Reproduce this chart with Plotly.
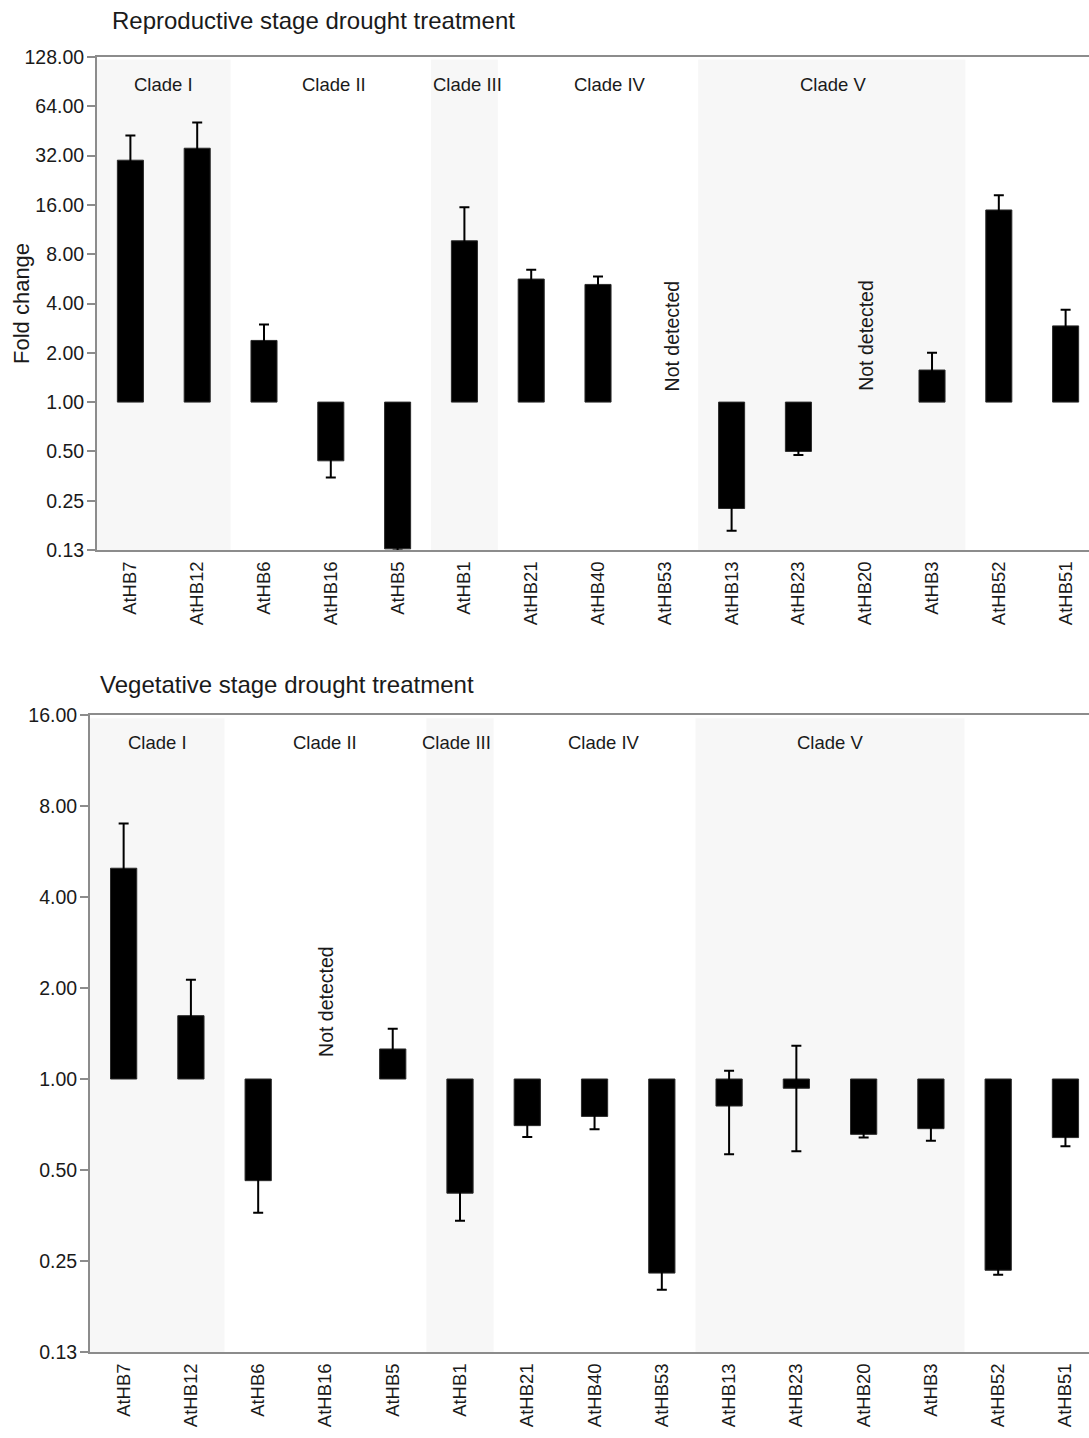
import math
import plotly.graph_objects as go

# ---------------- data ----------------
genes = ["AtHB7", "AtHB12", "AtHB6", "AtHB16", "AtHB5", "AtHB1", "AtHB21", "AtHB40",
         "AtHB53", "AtHB13", "AtHB23", "AtHB20", "AtHB3", "AtHB52", "AtHB51"]

repro_fc = [30.0, 35.5, 2.38, 0.438, 0.127, 9.66, 5.64, 5.23, None, 0.224, 0.50, None, 1.57, 14.9, 2.92]
repro_sd = [12.4, 15.4, 0.60, 0.092, 0.003, 5.8, 0.78, 0.62, None, 0.06, 0.025, None, 0.43, 3.4, 0.74]

veg_fc = [4.98, 1.62, 0.461, None, 1.257, 0.419, 0.701, 0.752, 0.228, 0.814, 0.932, 0.656, 0.685, 0.233, 0.640]
veg_sd = [2.02, 0.51, 0.10, None, 0.21, 0.079, 0.058, 0.07, 0.027, 0.25, 0.355, 0.015, 0.06, 0.008, 0.041]

clade_names = ["Clade I", "Clade II", "Clade III", "Clade IV", "Clade V"]
clade_first = [0, 2, 5, 6, 9]
clade_last = [1, 4, 5, 8, 12]
clade_shaded = [True, False, True, False, True]

repro_ticks = [0.125, 0.25, 0.5, 1, 2, 4, 8, 16, 32, 64, 128]
repro_ticktext = ["0.13", "0.25", "0.50", "1.00", "2.00", "4.00", "8.00", "16.00", "32.00", "64.00", "128.00"]
veg_ticks = [0.125, 0.25, 0.5, 1, 2, 4, 8, 16]
veg_ticktext = ["0.13", "0.25", "0.50", "1.00", "2.00", "4.00", "8.00", "16.00"]

titles = ["Reproductive stage drought treatment", "Vegetative stage drought treatment"]

# ---------------- styling ----------------
W, H = 1089, 1438
FONT = "Arial, Liberation Sans, Helvetica, sans-serif"
TXT = "#1a1a1a"
AX = "#8c8c8c"
SHADE = "#f7f7f7"

def py(p):
    return 1 - p / H

panels = [
    dict(fc=repro_fc, sd=repro_sd, ticks=repro_ticks, ticktext=repro_ticktext,
         xdom=[97 / W, 1.0], ydom=[py(550), py(57)], title=titles[0],
         title_x=110, title_y=20, clade_shift=-28, nd_shift=9, nd_dx={8: 7},
         clade_dx=[0, 0.05, 0.04, 0.18, 0.02]),
    dict(fc=veg_fc, sd=veg_sd, ticks=veg_ticks, ticktext=veg_ticktext,
         xdom=[90 / W, 1.0], ydom=[py(1352), py(715)], title=titles[1],
         title_x=98, title_y=685, clade_shift=-27, nd_shift=20, nd_dx={},
         clade_dx=[0, 0.0, -0.05, 0.14, 0.0]),
]

XR = [-0.5, 14.35]
fig = go.Figure()
shapes = []
annotations = []
layout_axes = {}

for k, p in enumerate(panels):
    xa = "x" if k == 0 else "x2"
    ya = "y" if k == 0 else "y2"
    xkey = "xaxis" if k == 0 else "xaxis2"
    ykey = "yaxis" if k == 0 else "yaxis2"
    xbkey = "xaxis%d" % (3 + k)

    sizes = [None if v is None else v - 1.0 for v in p["fc"]]
    fig.add_trace(go.Bar(
        x=list(range(len(genes))), y=sizes, base=1.0,
        xaxis=xa, yaxis=ya, width=0.39,
        marker=dict(color="#000000", line=dict(color="#2a2a2a", width=1)),
        error_y=dict(type="data", array=p["sd"], symmetric=True, color="#000000",
                     thickness=2, width=5),
        showlegend=False, hoverinfo="skip",
    ))

    ymin, ymax = math.log10(p["ticks"][0]), math.log10(p["ticks"][-1])
    layout_axes[xkey] = dict(
        domain=p["xdom"], anchor=ya, range=XR, tickmode="array",
        tickvals=list(range(len(genes))), ticktext=genes, tickangle=-90,
        ticks="outside", ticklen=2, tickcolor="rgba(0,0,0,0)",
        showline=True, linecolor=AX, linewidth=2, mirror=True,
        showgrid=False, zeroline=False, automargin=False,
        tickfont=dict(family=FONT, size=18.5, color=TXT),
    )
    layout_axes[ykey] = dict(
        domain=p["ydom"], anchor=xa, type="log", range=[ymin, ymax],
        tickmode="array", tickvals=p["ticks"], ticktext=p["ticktext"],
        ticks="outside", ticklen=8, tickwidth=1.5, tickcolor=AX,
        ticklabelstandoff=-1,
        showline=True, linecolor=AX, linewidth=2, showgrid=False, zeroline=False,
        automargin=False,
        tickfont=dict(family=FONT, size=19.5, color=TXT),
    )
    # baseline at fold change 1.00 with ticks at category boundaries
    frac = (0 - ymin) / (ymax - ymin)
    pos = p["ydom"][0] + frac * (p["ydom"][1] - p["ydom"][0])
    layout_axes[xbkey] = dict(
        overlaying=xa, anchor="free", position=pos, domain=p["xdom"], type="linear",
        range=XR, tickmode="array", tickvals=[i + 0.5 for i in range(len(genes) - 1)],
        ticks="outside", ticklen=7, tickwidth=1.5, tickcolor=AX,
        showticklabels=False, showline=True, linecolor=AX, linewidth=2,
        showgrid=False, zeroline=False, automargin=False,
    )

    # clade shading and labels
    for ci, name in enumerate(clade_names):
        if clade_shaded[ci]:
            shapes.append(dict(type="rect", xref=xa, yref=ya + " domain",
                               x0=clade_first[ci] - 0.5, x1=clade_last[ci] + 0.5,
                               y0=0, y1=0.995, fillcolor=SHADE, line=dict(width=0),
                               layer="below"))
        annotations.append(dict(
            text=name, xref=xa, yref=ya + " domain",
            x=(clade_first[ci] + clade_last[ci]) / 2 + p["clade_dx"][ci], y=1,
            yshift=p["clade_shift"], xanchor="center", yanchor="middle",
            showarrow=False, font=dict(family=FONT, size=18.5, color=TXT)))

    # not detected labels
    for gi, v in enumerate(p["fc"]):
        if v is None:
            annotations.append(dict(
                text="Not detected", xref=xa, yref=ya, x=gi, y=0,
                xshift=p["nd_dx"].get(gi, 0),
                yshift=p["nd_shift"], textangle=-90, xanchor="center", yanchor="bottom",
                showarrow=False, font=dict(family=FONT, size=19.5, color=TXT)))

    annotations.append(dict(
        text=p["title"], xref="paper", yref="paper", x=p["title_x"] / W,
        y=py(p["title_y"]), xanchor="left", yanchor="middle", showarrow=False,
        font=dict(family=FONT, size=24, color=TXT)))

annotations.append(dict(
    text="Fold change", xref="paper", yref="y domain", x=21.5 / W, y=0.5,
    xanchor="center", yanchor="middle", textangle=-90, showarrow=False,
    font=dict(family=FONT, size=22, color=TXT)))

fig.update_layout(
    width=W, height=H, margin=dict(l=0, r=0, t=0, b=0, autoexpand=False),
    paper_bgcolor="white", plot_bgcolor="white",
    shapes=shapes, annotations=annotations, bargap=0.6, showlegend=False,
    font=dict(family=FONT, color=TXT),
    **layout_axes,
)

fig.write_html("out.html", config={"displayModeBar": False},
               post_script="document.body.style.margin='0';document.body.style.padding='0';")
